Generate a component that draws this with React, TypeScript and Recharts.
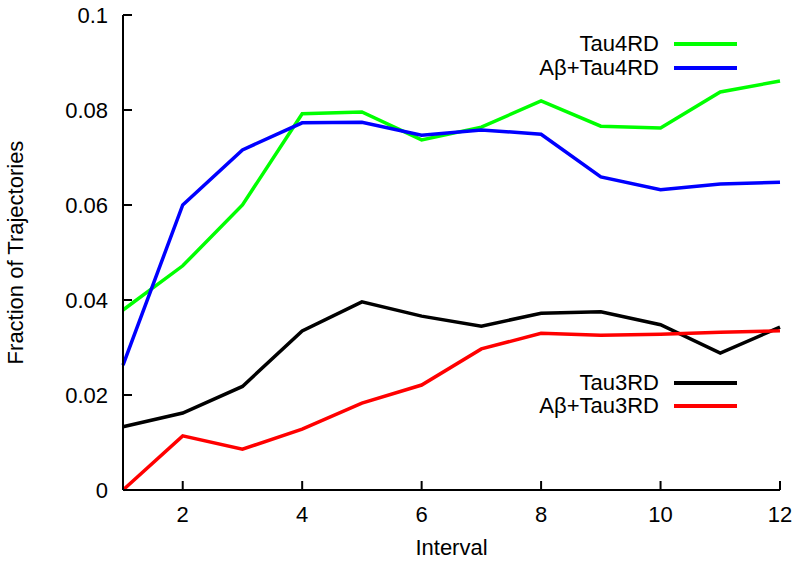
import React from 'react';
import { LineChart, Line, XAxis, YAxis } from 'recharts';

const intervals = [1, 2, 3, 4, 5, 6, 7, 8, 9, 10, 11, 12];
const tau4RD = [0.0379, 0.0472, 0.06, 0.0792, 0.0796, 0.0737, 0.0764, 0.0819, 0.0766, 0.0762, 0.0838, 0.0861];
const abTau4RD = [0.0263, 0.06, 0.0716, 0.0773, 0.0774, 0.0747, 0.0758, 0.0749, 0.0659, 0.0632, 0.0644, 0.0648];
const tau3RD = [0.0133, 0.0162, 0.0218, 0.0335, 0.0396, 0.0366, 0.0345, 0.0372, 0.0375, 0.0348, 0.0288, 0.0343];
const abTau3RD = [0.0, 0.0114, 0.0086, 0.0128, 0.0183, 0.0221, 0.0297, 0.033, 0.0326, 0.0328, 0.0332, 0.0335];

const xTicks = [2, 4, 6, 8, 10, 12];
const yTicks = [0, 0.02, 0.04, 0.06, 0.08, 0.1];

const data = intervals.map((x, i) => ({
  x,
  tau4: tau4RD[i],
  abTau4: abTau4RD[i],
  tau3: tau3RD[i],
  abTau3: abTau3RD[i],
}));

const FONT = "'Liberation Sans', Arial, Helvetica, sans-serif";
const tickStyle = { fill: '#000', fontSize: 22, fontFamily: FONT };
const LW = 3.5;

const legendItems = [
  { name: 'Tau4RD', color: '#00ff00', y: 44 },
  { name: 'A\u03b2+Tau4RD', color: '#0000ff', y: 68 },
  { name: 'Tau3RD', color: '#000000', y: 383 },
  { name: 'A\u03b2+Tau3RD', color: '#ff0000', y: 406 },
];

const fmtY = (v: number) => (v === 0 ? '0' : String(Number(v.toFixed(2))));

export default function App() {
  return (
    <div style={{ position: 'absolute', left: 0, top: 0, width: 800, height: 561, background: '#fff', fontFamily: FONT }}>
      <LineChart width={800} height={561} data={data} margin={{ top: 15, right: 20, left: 0, bottom: 0 }}>
        <XAxis
          xAxisId="bottom"
          dataKey="x"
          type="number"
          domain={[1, 12]}
          ticks={xTicks}
          height={71}
          tickSize={-9}
          tickMargin={25}
          stroke="#000"
          strokeWidth={2}
          tick={tickStyle}
          label={({ viewBox }: any) => (
            <text
              x={viewBox.x + viewBox.width / 2}
              y={555}
              textAnchor="middle"
              fontSize={22}
              fontFamily={FONT}
              fill="#000"
            >
              Interval
            </text>
          )}
        />
        <XAxis
          xAxisId="top"
          orientation="top"
          dataKey="x"
          type="number"
          domain={[1, 12]}
          ticks={xTicks}
          height={0}
          tickSize={-9}
          stroke="#000"
          strokeWidth={2}
          tick={() => <g />}
        />
        <YAxis
          yAxisId="left"
          domain={[0, 0.1]}
          ticks={yTicks}
          width={123}
          tickSize={-9}
          tickMargin={24}
          stroke="#000"
          strokeWidth={2}
          tick={tickStyle}
          tickFormatter={fmtY}
          label={({ viewBox }: any) => (
            <text
              x={23}
              y={viewBox.y + viewBox.height / 2}
              transform={`rotate(-90, 23, ${viewBox.y + viewBox.height / 2})`}
              textAnchor="middle"
              fontSize={22}
              fontFamily={FONT}
              fill="#000"
            >
              Fraction of Trajectories
            </text>
          )}
        />
        <YAxis
          yAxisId="right"
          orientation="right"
          domain={[0, 0.1]}
          ticks={yTicks}
          width={0}
          tickSize={-9}
          stroke="#000"
          strokeWidth={2}
          tick={() => <g />}
        />
        <Line xAxisId="bottom" yAxisId="left" dataKey="tau4" stroke="#00ff00" strokeWidth={LW} dot={false} isAnimationActive={false} />
        <Line xAxisId="bottom" yAxisId="left" dataKey="abTau4" stroke="#0000ff" strokeWidth={LW} dot={false} isAnimationActive={false} />
        <Line xAxisId="bottom" yAxisId="left" dataKey="tau3" stroke="#000000" strokeWidth={LW} dot={false} isAnimationActive={false} />
        <Line xAxisId="bottom" yAxisId="left" dataKey="abTau3" stroke="#ff0000" strokeWidth={LW} dot={false} isAnimationActive={false} />
      </LineChart>

      {/* legends, gnuplot style: text right aligned, sample line to the right */}
      {legendItems.map((it) => (
        <React.Fragment key={it.name}>
          <div
            style={{
              position: 'absolute',
              right: 800 - 659,
              top: it.y - 13,
              fontSize: 22,
              lineHeight: '26px',
              color: '#000',
              whiteSpace: 'nowrap',
            }}
          >
            {it.name}
          </div>
          <div
            style={{
              position: 'absolute',
              left: 674,
              width: 63,
              top: it.y - 2,
              height: 4,
              background: it.color,
            }}
          />
        </React.Fragment>
      ))}
    </div>
  );
}
